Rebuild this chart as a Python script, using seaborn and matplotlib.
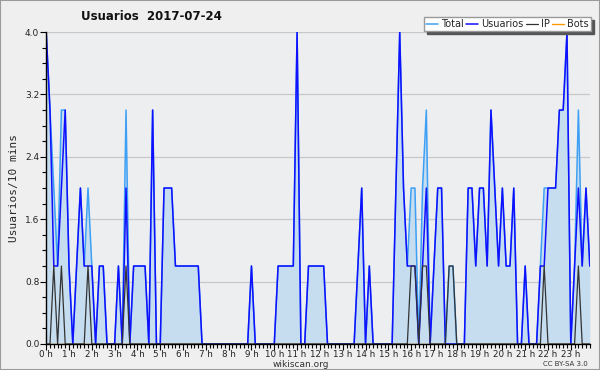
"""plot.py
Usuarios per 10 minutes over one day (wikiscan style).
"""

# Imports
import matplotlib
matplotlib.use("Agg")
import matplotlib.pyplot as plt
import matplotlib.patches as mpatches
from matplotlib.ticker import MultipleLocator
import seaborn as sns
import pandas as pd
import numpy as np


# Data: one value every 10 minutes, 144 slots
hour_labels = [f"{h} h" for h in range(24)]

usuarios = [
    4, 3, 1, 1, 2, 3, 1, 0, 1, 2, 1, 1,
    1, 0, 1, 1, 0, 0, 0, 1, 0, 2, 0, 1,
    1, 1, 1, 0, 3, 0, 0, 2, 2, 2, 1, 1,
    1, 1, 1, 1, 1, 0, 0, 0, 0, 0, 0, 0,
    0, 0, 0, 0, 0, 0, 1, 0, 0, 0, 0, 0,
    0, 1, 1, 1, 1, 1, 4, 0, 0, 1, 1, 1,
    1, 1, 0, 0, 0, 0, 0, 0, 0, 0, 1, 2,
    0, 1, 0, 0, 0, 0, 0, 0, 2, 4, 2, 1,
    1, 1, 0, 1, 2, 0, 1, 2, 2, 0, 0, 0,
    0, 0, 0, 2, 2, 1, 2, 2, 1, 3, 2, 1,
    2, 1, 1, 2, 0, 0, 1, 0, 0, 0, 1, 1,
    2, 2, 2, 3, 3, 4, 0, 1, 2, 1, 2, 1,
]

ip = [
    0, 0, 1, 0, 1, 0, 0, 0, 0, 0, 0, 1,
    0, 0, 0, 0, 0, 0, 0, 0, 0, 1, 0, 0,
    0, 0, 0, 0, 0, 0, 0, 0, 0, 0, 0, 0,
    0, 0, 0, 0, 0, 0, 0, 0, 0, 0, 0, 0,
    0, 0, 0, 0, 0, 0, 0, 0, 0, 0, 0, 0,
    0, 0, 0, 0, 0, 0, 0, 0, 0, 0, 0, 0,
    0, 0, 0, 0, 0, 0, 0, 0, 0, 0, 0, 0,
    0, 0, 0, 0, 0, 0, 0, 0, 0, 0, 0, 0,
    1, 1, 0, 1, 1, 0, 0, 0, 0, 0, 1, 1,
    0, 0, 0, 0, 0, 0, 0, 0, 0, 0, 0, 0,
    0, 0, 0, 0, 0, 0, 0, 0, 0, 0, 0, 1,
    0, 0, 0, 0, 0, 0, 0, 0, 1, 0, 0, 0,
]

total = [
    4, 3, 2, 1, 3, 3, 1, 0, 1, 2, 1, 2,
    1, 0, 1, 1, 0, 0, 0, 1, 0, 3, 0, 1,
    1, 1, 1, 0, 3, 0, 0, 2, 2, 2, 1, 1,
    1, 1, 1, 1, 1, 0, 0, 0, 0, 0, 0, 0,
    0, 0, 0, 0, 0, 0, 1, 0, 0, 0, 0, 0,
    0, 1, 1, 1, 1, 1, 4, 0, 0, 1, 1, 1,
    1, 1, 0, 0, 0, 0, 0, 0, 0, 0, 1, 2,
    0, 1, 0, 0, 0, 0, 0, 0, 2, 4, 2, 1,
    2, 2, 0, 2, 3, 0, 1, 2, 2, 0, 1, 1,
    0, 0, 0, 2, 2, 1, 2, 2, 1, 3, 2, 1,
    2, 1, 1, 2, 0, 0, 1, 0, 0, 0, 1, 2,
    2, 2, 2, 3, 3, 4, 0, 1, 3, 1, 2, 1,
]

bots = [0] * 144

df = pd.DataFrame({'slot': np.arange(len(total)), 'Total': total,
                   'Usuarios': usuarios, 'IP': ip, 'Bots': bots})

# Colors
c_total = '#3da0f5'
c_users = '#1010ff'
c_ip = '#333333'
c_bots = '#ff9900'
c_fill = '#c6ddf0'

# Style
sns.set_theme(style='white')
plt.rcParams['font.family'] = ['DejaVu Sans']

fig = plt.figure(figsize=(6, 3.7), dpi=100, facecolor='#efefef')
ax = fig.add_axes([0.077, 0.0703, 0.906, 0.843], facecolor='#edeef0')

# Area + lines
ax.fill_between(df['slot'], df['Total'], color=c_fill, lw=0, zorder=1)
sns.lineplot(data=df, x='slot', y='Bots', color=c_bots, lw=1, ax=ax,
             zorder=1.5, label='Bots')
sns.lineplot(data=df, x='slot', y='Total', color=c_total, lw=1.1, ax=ax,
             zorder=2, label='Total')
sns.lineplot(data=df, x='slot', y='Usuarios', color=c_users, lw=1.1, ax=ax,
             zorder=3, label='Usuarios')
sns.lineplot(data=df, x='slot', y='IP', color=c_ip, lw=0.9, ax=ax,
             zorder=4, label='IP')

# Axes limits and ticks
ax.set_xlim(0, 143)
ax.set_ylim(0, 4.0)
ax.set_xticks(np.arange(0, 144, 6))
ax.set_xticklabels(hour_labels, fontsize=6.3, color='#222222')
ax.xaxis.set_minor_locator(MultipleLocator(1))
ax.set_yticks(np.arange(0, 4.01, 0.8))
ax.set_yticklabels([f"{v:.1f}" for v in np.arange(0, 4.01, 0.8)],
                   fontsize=6.5, color='#222222')
ax.yaxis.set_minor_locator(MultipleLocator(0.2))
ax.tick_params(axis='both', which='major', direction='out', length=4,
               width=0.8, color='black', pad=1)
ax.tick_params(axis='x', which='major', pad=0)
ax.tick_params(axis='both', which='minor', direction='out', length=3,
               width=0.8, color='black')
ax.tick_params(axis='both', which='both', bottom=True, left=True)
ax.grid(axis='y', color='#c8c8c8', lw=0.9)
ax.set_axisbelow(True)

for side in ['top', 'right']:
    ax.spines[side].set_visible(False)
for side in ['left', 'bottom']:
    ax.spines[side].set_color('black')
    ax.spines[side].set_linewidth(1)
    ax.spines[side].set_zorder(5)

ax.set_xlabel('')
ax.set_ylabel('Usuarios/10 mins', fontsize=8, labelpad=4,
              family='DejaVu Sans Mono')

# Legend
handles, labels = ax.get_legend_handles_labels()
order = ['Total', 'Usuarios', 'IP', 'Bots']
hmap = dict(zip(labels, handles))
leg = ax.legend([hmap[k] for k in order], order, ncol=4, fontsize=7,
                loc='upper right', bbox_to_anchor=(0.985, 0.954),
                bbox_transform=fig.transFigure, frameon=True, fancybox=False,
                shadow={'color': '#555555', 'alpha': 1}, handlelength=1.2,
                handletextpad=0.35, columnspacing=0.25, borderpad=0.2,
                borderaxespad=0)
leg.get_frame().set_edgecolor('#999999')
leg.get_frame().set_facecolor('white')
leg.get_frame().set_linewidth(1)

# Title and credits
fig.text(0.252, 0.955, 'Usuarios  2017-07-24', ha='center', va='center',
         fontsize=8.5, fontweight='bold', color='#111111')
fig.text(0.502, 0.016, 'wikiscan.org', ha='center', va='center',
         fontsize=6.5, color='#333333')
fig.text(0.943, 0.016, 'CC BY-SA 3.0', ha='center', va='center',
         fontsize=5, color='#333333')

# Outer border
fig.patches.append(mpatches.Rectangle((0, 0), 1, 1, transform=fig.transFigure,
                                      fill=False, edgecolor='#9a9a9a', lw=1.5))

plt.savefig('out.png', dpi=100, facecolor=fig.get_facecolor())
